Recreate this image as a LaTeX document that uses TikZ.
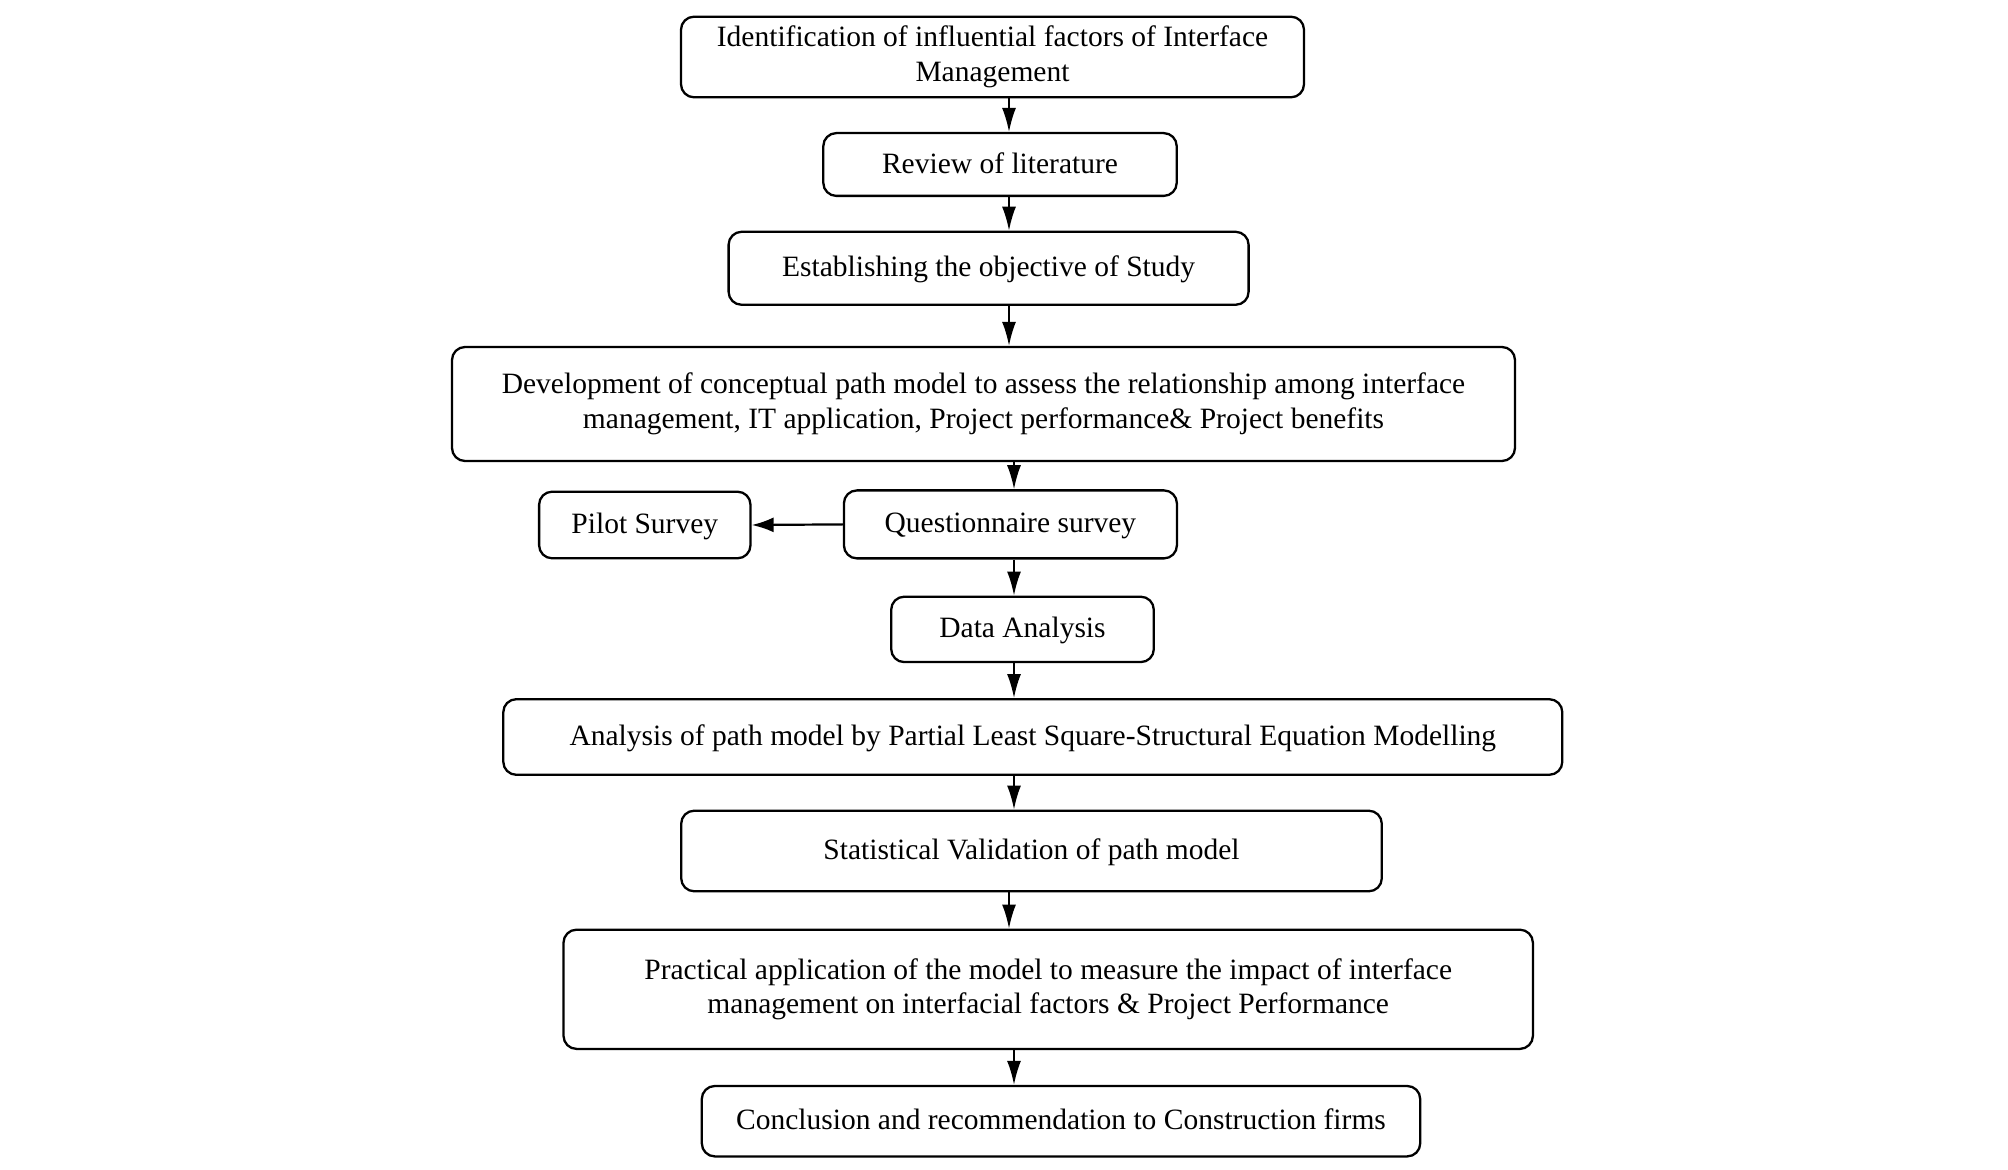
\documentclass[tikz,border=0pt]{standalone}
\usepackage{fontspec}
\setmainfont{Liberation Serif}
\usetikzlibrary{arrows.meta}
\tikzset{
  box/.style={draw, line width=1.15pt, rounded corners=6.5pt, align=center, inner sep=0pt,
    font=\fontsize{14.75pt}{17.4pt}\selectfont},
  oneline/.style={text height=11.6pt, text depth=3pt},
  arr/.style={line width=0.9pt, -{Latex[length=12pt,width=7pt]}},
}
\begin{document}
\begin{tikzpicture}[x=0.5pt,y=-0.5pt]
\useasboundingbox (0,0) rectangle (2008,1170);
\fill[white] (0,0) rectangle (2008,1170);
\coordinate (ax1) at (1009,0);
\coordinate (ax2) at (1014,0);
\node[box, minimum width=311.5pt, minimum height=40.3pt] (b1) at (992.5,57) {Identification of influential factors of Interface\\Management};
\node[box, oneline, minimum width=176.7pt, minimum height=31.4pt] (b2) at (1000,164.5) {Review of literature};
\node[box, oneline, minimum width=260pt, minimum height=36.5pt] (b3) at (988.6,268.3) {Establishing the objective of Study};
\node[box, minimum width=531.5pt, minimum height=57pt] (b4) at (983.5,404) {Development of conceptual path model to assess the relationship among interface\\management, IT application, Project performance\& Project benefits};
\node[box, oneline, minimum width=105.7pt, minimum height=33.3pt] (pilot) at (644.8,525) {Pilot Survey};
\node[box, oneline, minimum width=166.5pt, minimum height=34pt] (quest) at (1010.4,524.4) {Questionnaire survey};
\node[box, oneline, minimum width=131.3pt, minimum height=32.7pt] (data) at (1022.5,629.4) {Data Analysis};
\node[box, oneline, minimum width=529.5pt, minimum height=37.8pt] (pls) at (1032.8,737) {Analysis of path model by Partial Least Square-Structural Equation Modelling};
\node[box, oneline, minimum width=350.3pt, minimum height=40.3pt] (stat) at (1031.5,851) {Statistical Validation of path model};
\node[box, minimum width=484.7pt, minimum height=59.6pt] (pract) at (1048.2,989.3) {Practical application of the model to measure the impact of interface\\management on interfacial factors \& Project Performance};
\node[box, oneline, minimum width=359.2pt, minimum height=35.2pt] (concl) at (1061,1121.2) {Conclusion and recommendation to Construction firms};
\draw[arr] (b1.south -| ax1) -- (b2.north -| ax1);
\draw[arr] (b2.south -| ax1) -- (b3.north -| ax1);
\draw[arr] (b3.south -| ax1) -- (b4.north -| ax1);
\draw[arr] (b4.south -| ax2) -- (quest.north -| ax2);
\draw[arr] (quest.south -| ax2) -- (data.north -| ax2);
\draw[arr] (data.south -| ax2) -- (pls.north -| ax2);
\draw[arr] (pls.south -| ax2) -- (stat.north -| ax2);
\draw[arr] (stat.south -| ax1) -- (pract.north -| ax1);
\draw[arr] (pract.south -| ax2) -- (concl.north -| ax2);
\draw[line width=1.1pt, -{Latex[length=11pt,width=7.5pt]}] (quest.west) -- (pilot.east);
\end{tikzpicture}
\end{document}
